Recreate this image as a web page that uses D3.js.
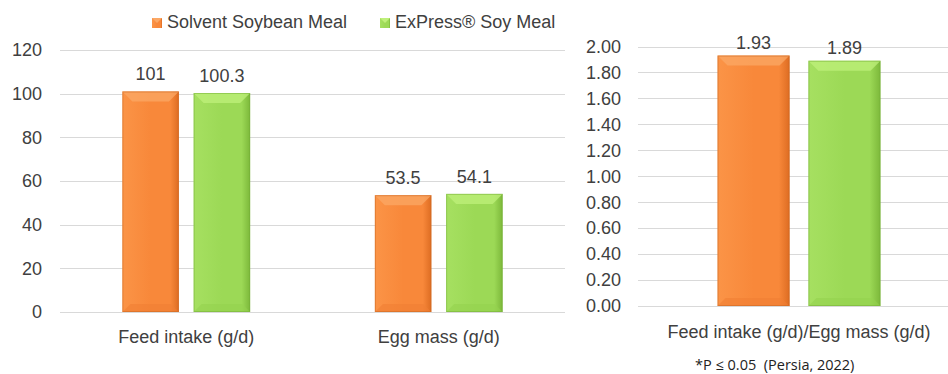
<!DOCTYPE html>
<html>
<head>
<meta charset="utf-8">
<script src="https://cdn.jsdelivr.net/npm/d3@7"></script>
<style>
	body { margin: 0; background: #fff; }
	svg { display: block; font-family: "Liberation Sans", Arial, sans-serif; }
	.tick_text { fill: #404040; font-size: 18px; }
	.grid line { stroke: #d9d9d9; stroke-width: 1; }
</style>
</head>
<body>
<div id="chart"></div>
<script>
// data
const series = ["Solvent Soybean Meal", "ExPress\u00AE Soy Meal"];
const left_categories = ["Feed intake (g/d)", "Egg mass (g/d)"];
const left_values = [[101, 100.3], [53.5, 54.1]];
const left_ticks = [0, 20, 40, 60, 80, 100, 120];
const right_categories = ["Feed intake (g/d)/Egg mass (g/d)"];
const right_values = [[1.93, 1.89]];
const right_ticks = [0, 0.2, 0.4, 0.6, 0.8, 1.0, 1.2, 1.4, 1.6, 1.8, 2.0];
const footnote = "*P \u2264 0.05  (Persia, 2022)";

const W = 948, H = 374;
const svg = d3.select("#chart").append("svg")
	.attr("width", W).attr("height", H)
	.attr("viewBox", `0 0 ${W} ${H}`);

// bar styles: light left, base, dark right, top bevel, bottom bevel, edge
const palette = [
	{id: "org", left: "#fb9447", mid: "#f8883a", right: "#dd6c22", top: "#fba866", bottom: "#f07f33", edge: "#c9651f"},
	{id: "grn", left: "#a6e061", mid: "#9cd956", right: "#7cb83a", top: "#bff07b", bottom: "#94d24e", edge: "#74ad35"}
];

const defs = svg.append("defs");
palette.forEach(p => {
	const g = defs.append("linearGradient").attr("id", "grad_" + p.id)
		.attr("x1", "0").attr("x2", "1").attr("y1", "0").attr("y2", "0");
	g.append("stop").attr("offset", "0").attr("stop-color", p.left);
	g.append("stop").attr("offset", "0.5").attr("stop-color", p.mid);
	g.append("stop").attr("offset", "0.85").attr("stop-color", p.mid);
	g.append("stop").attr("offset", "1").attr("stop-color", p.right);
});

function draw_chart(opts) {
	const y = d3.scaleLinear().domain(opts.y_domain).range([opts.y0, opts.y1]);
	const x0 = d3.scaleBand().domain(opts.categories).range([opts.x_left, opts.x_right]).padding(0);
	const x1 = d3.scaleBand().domain(series).range([0, x0.bandwidth()])
		.paddingInner(0.207).paddingOuter(0.875);

	const g = svg.append("g");

	// gridlines
	g.append("g").attr("class", "grid")
		.selectAll("line").data(opts.ticks).enter().append("line")
		.attr("x1", opts.x_left).attr("x2", opts.grid_right)
		.attr("y1", d => Math.round(y(d)) + 0.5).attr("y2", d => Math.round(y(d)) + 0.5);

	// y tick labels
	g.append("g").selectAll("text").data(opts.ticks).enter().append("text")
		.attr("class", "tick_text")
		.attr("x", opts.label_x).attr("y", d => y(d))
		.attr("dy", "0.35em").attr("text-anchor", "end")
		.text(d => opts.fmt(d));

	// category labels
	g.append("g").selectAll("text").data(opts.categories).enter().append("text")
		.attr("class", "tick_text")
		.attr("x", d => x0(d) + x0.bandwidth() / 2)
		.attr("y", opts.cat_y)
		.attr("text-anchor", "middle")
		.text(d => d);

	const rows = [];
	opts.categories.forEach((c, i) => {
		series.forEach((s, j) => {
			rows.push({cat: c, s: s, j: j, v: opts.values[i][j]});
		});
	});

	const bars = g.selectAll(".bar").data(rows).enter().append("g").attr("class", "bar");
	const bev_top = 10, bev_bot = 8;

	bars.each(function(d) {
		const p = palette[d.j];
		const bx = x0(d.cat) + x1(d.s);
		const bw = x1.bandwidth();
		const top = y(d.v), bot = y(0);
		const sel = d3.select(this);
		sel.append("rect")
			.attr("x", bx).attr("y", top).attr("width", bw).attr("height", bot - top)
			.attr("fill", `url(#grad_${p.id})`);
		// top bevel
		sel.append("path")
			.attr("d", `M${bx},${top}L${bx + bw},${top}L${bx + bw - bev_top},${top + bev_top}L${bx + bev_top},${top + bev_top}Z`)
			.attr("fill", p.top).attr("opacity", 0.75);
		// bottom bevel
		sel.append("path")
			.attr("d", `M${bx},${bot}L${bx + bw},${bot}L${bx + bw - bev_bot},${bot - bev_bot}L${bx + bev_bot},${bot - bev_bot}Z`)
			.attr("fill", p.bottom).attr("opacity", 0.6);
		sel.append("rect")
			.attr("x", bx + 0.5).attr("y", top + 0.5).attr("width", bw - 1).attr("height", bot - top - 1)
			.attr("fill", "none").attr("stroke", p.edge).attr("stroke-width", 1).attr("opacity", 0.5);
		// value label
		sel.append("text")
			.attr("class", "tick_text")
			.attr("x", bx + bw / 2).attr("y", top - opts.val_off)
			.attr("text-anchor", "middle")
			.text(opts.val_fmt(d.v));
	});
}

draw_chart({
	categories: left_categories, values: left_values, ticks: left_ticks,
	y_domain: [0, 120], y0: 312, y1: 50,
	x_left: 60, x_right: 565, grid_right: 565, label_x: 42,
	cat_y: 343, val_off: 11,
	fmt: d => d3.format("d")(d), val_fmt: d => String(d)
});

draw_chart({
	categories: right_categories, values: right_values, ticks: right_ticks,
	y_domain: [0, 2], y0: 306, y1: 46.5,
	x_left: 638, x_right: 960, grid_right: 948, label_x: 621,
	cat_y: 338, val_off: 7,
	fmt: d => d3.format(".2f")(d), val_fmt: d => d3.format(".2f")(d)
});

// legend
const legend = svg.append("g").attr("class", "legend");
const legend_x = [152, 380];
series.forEach((s, i) => {
	const p = palette[i];
	legend.append("rect")
		.attr("x", legend_x[i]).attr("y", 18).attr("width", 10).attr("height", 10)
		.attr("fill", `url(#grad_${p.id})`);
	legend.append("path")
		.attr("d", `M${legend_x[i]},18L${legend_x[i] + 10},18L${legend_x[i] + 5},23Z`)
		.attr("fill", p.top);
	legend.append("text")
		.attr("class", "tick_text")
		.attr("x", legend_x[i] + 15).attr("y", 28)
		.text(s);
});

// footnote
svg.append("text")
	.attr("x", 695).attr("y", 370)
	.attr("fill", "#222")
	.style("white-space", "pre")
	.style("font-family", "'Open Sans', 'Noto Sans', sans-serif")
	.style("font-size", "14.5px")
	.text(footnote);
</script>
</body>
</html>
